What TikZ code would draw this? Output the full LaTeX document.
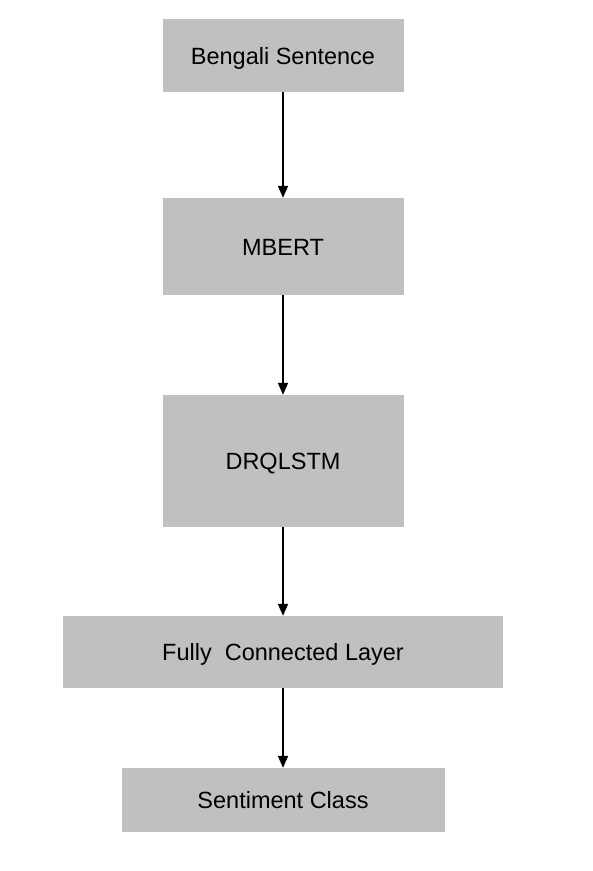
\documentclass[tikz,border=0pt]{standalone}
\usepackage{fontspec}
\setmainfont{Liberation Sans}
\definecolor{boxGray}{HTML}{C0C0C0}
\usetikzlibrary{arrows.meta}

\begin{document}
\begin{tikzpicture}[x=1pt,y=-1pt,
                    stage/.style={fill=boxGray,draw=none,inner sep=0pt,align=center,
                                  text height=17pt,text depth=0pt,
                                  font=\fontsize{23.5}{28}\selectfont},
                    flow/.style={line width=1.7pt,-{Triangle[width=10pt,length=12pt]}}]
  \useasboundingbox (0,0) rectangle (593,871);
  \node[stage,minimum width=241pt,minimum height=73pt]  (input) at (283,55.5) {Bengali Sentence};
  \node[stage,minimum width=241pt,minimum height=97pt]  (mbert) at (283,246.5) {MBERT};
  \node[stage,minimum width=241pt,minimum height=132pt] (lstm)  at (283,461) {DRQLSTM};
  \node[stage,minimum width=440pt,minimum height=72pt]  (fc)    at (283,652) {Fully\ \ Connected Layer};
  \node[stage,minimum width=323pt,minimum height=64pt]  (out)   at (283,800) {Sentiment Class};

  \draw[flow] (input.south) -- (mbert.north);
  \draw[flow] (mbert.south) -- (lstm.north);
  \draw[flow] (lstm.south) -- (fc.north);
  \draw[flow] (fc.south) -- (out.north);
\end{tikzpicture}
\end{document}
